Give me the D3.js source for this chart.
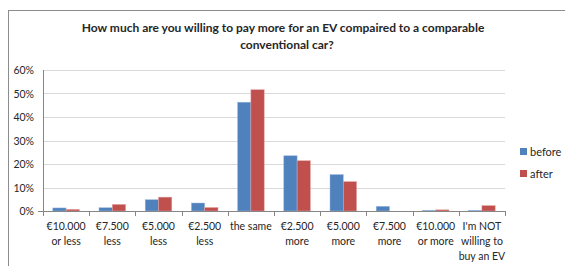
<!DOCTYPE html>
<html>
<meta charset="utf-8">
<script src="https://d3js.org/d3.v7.js"></script>
<style>
  body { margin: 0; background: #fff; }
  text { font-family: Lato, "Open Sans", sans-serif; fill: #262626; }
</style>
<body>
<div id="chart"></div>
<script>
// categories and values (percent)
var categories = [
  ["€10.000", "or less"], ["€7.500", "less"], ["€5.000", "less"], ["€2.500", "less"],
  ["the same"], ["€2.500", "more"], ["€5.000", "more"], ["€7.500", "more"],
  ["€10.000", "or more"], ["I'm NOT", "willing to", "buy an EV"]
];
var before = [1.3, 1.4, 4.8, 3.4, 46.3, 23.5, 15.5, 2.0, 0.3, 0.3];
var after  = [0.7, 2.8, 5.9, 1.5, 51.6, 21.4, 12.5, 0.0, 0.5, 2.3];
var seriesNames = ["before", "after"];
var colors = ["#4F81BD", "#C0504D"];
var yTicks = [0, 10, 20, 30, 40, 50, 60];

var W = 565, H = 266;
var margin = { top: 70, left: 43, right: 60, bottom: 55 };
var plotW = 505 - margin.left, plotH = 211 - margin.top;

var svg = d3.select("#chart").append("svg")
  .attr("width", W).attr("height", H);

// outer frame
svg.append("rect")
  .attr("x", 8.5).attr("y", 10.5).attr("width", W).attr("height", H)
  .attr("fill", "none").attr("stroke", "#8c8c8c").attr("stroke-width", 1);

// title
var title = svg.append("text")
  .attr("text-anchor", "middle")
  .style("font-weight", "bold").style("font-size", "12px");
title.append("tspan").attr("x", 283).attr("y", 32)
  .text("How much are you willing to pay more for an EV compaired to a comparable");
title.append("tspan").attr("x", 287).attr("y", 49).text("conventional car?");

var g = svg.append("g").attr("transform", "translate(" + margin.left + "," + margin.top + ")");

var x = d3.scaleBand().domain(d3.range(categories.length)).range([0, plotW]);
var xs = d3.scaleBand().domain([0, 1]).range([0, 26.6]);
var y = d3.scaleLinear().domain([0, 60]).range([plotH, 0]);

// gridlines
g.selectAll(".grid").data(yTicks.slice(1)).enter().append("line")
  .attr("x1", 0).attr("x2", plotW)
  .attr("y1", function (d) { return Math.round(y(d)) + 0.5; })
  .attr("y2", function (d) { return Math.round(y(d)) + 0.5; })
  .attr("stroke", "#d9d9d9").attr("stroke-width", 1.2);

// y axis labels
g.selectAll(".ylab").data(yTicks).enter().append("text")
  .attr("x", -9).attr("y", function (d) { return y(d) + 4; })
  .attr("text-anchor", "end").style("font-size", "10.5px")
  .text(function (d) { return d + "%"; });

// bars
var data = [];
categories.forEach(function (c, i) {
  data.push({ cat: i, s: 0, v: before[i] });
  data.push({ cat: i, s: 1, v: after[i] });
});
g.selectAll(".bar").data(data).enter().append("rect")
  .attr("x", function (d) { return x(d.cat) + x.bandwidth() / 2 - 13.3 + xs(d.s); })
  .attr("y", function (d) { return y(d.v); })
  .attr("width", xs.bandwidth())
  .attr("height", function (d) { return plotH - y(d.v); })
  .attr("fill", function (d) { return colors[d.s]; })
  .attr("stroke", function (d) { return d.s ? "#e6a3a1" : "#9bb9e0"; })
  .attr("stroke-width", 0.5);

// x axis line and ticks
g.append("line").attr("x1", -5).attr("x2", plotW)
  .attr("y1", plotH + 0.5).attr("y2", plotH + 0.5)
  .attr("stroke", "#868686");
g.append("line").attr("x1", 0.5).attr("x2", 0.5)
  .attr("y1", 0).attr("y2", plotH)
  .attr("stroke", "#868686");
g.selectAll(".tick").data(d3.range(categories.length + 1)).enter().append("line")
  .attr("x1", function (d) { return Math.round(d * x.step()) + 0.5; })
  .attr("x2", function (d) { return Math.round(d * x.step()) + 0.5; })
  .attr("y1", plotH).attr("y2", plotH + 5)
  .attr("stroke", "#868686");

// category labels
g.selectAll(".xlab").data(categories).enter().append("text")
  .attr("text-anchor", "middle").style("font-size", "10.5px")
  .each(function (lines, i) {
    var t = d3.select(this);
    lines.forEach(function (l, k) {
      t.append("tspan").attr("x", x(i) + x.bandwidth() / 2)
        .attr("y", plotH + 19 + k * 15).text(l);
    });
  });

// legend
var leg = svg.selectAll(".leg").data(seriesNames).enter().append("g")
  .attr("transform", function (d, i) { return "translate(520," + (148 + i * 22) + ")"; });
leg.append("rect").attr("width", 7).attr("height", 7)
  .attr("fill", function (d, i) { return colors[i]; });
leg.append("text").attr("x", 10).attr("y", 8).style("font-size", "11px")
  .text(function (d) { return d; });
</script>
</body>
</html>
